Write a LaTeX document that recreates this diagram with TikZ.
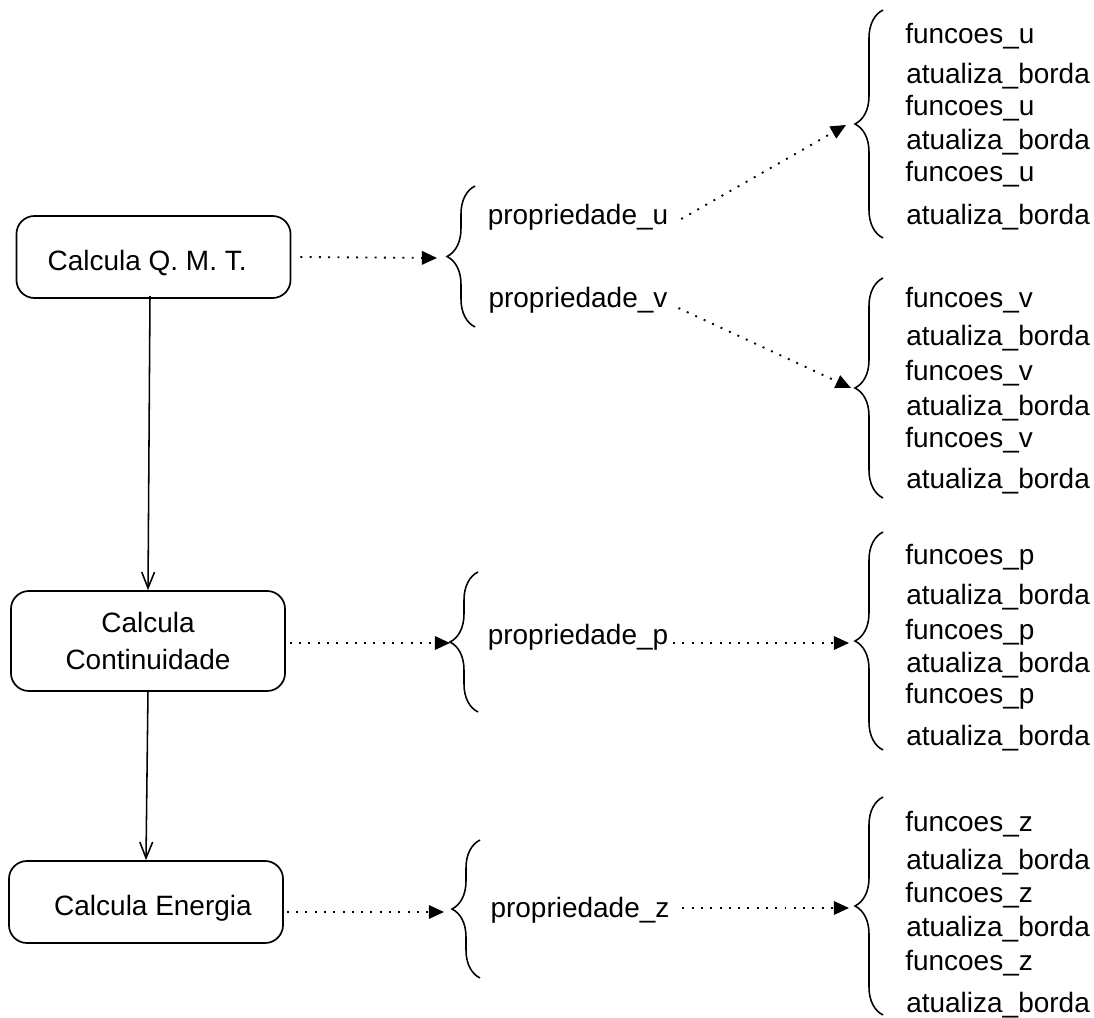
\documentclass[tikz,border=0pt]{standalone}
\usepackage{fontspec}
\setmainfont{Liberation Sans}
\usetikzlibrary{arrows.meta,decorations.pathreplacing}

\begin{document}
\begin{tikzpicture}[x=0.025cm,y=-0.025cm,
    font=\fontsize{19.9}{24}\selectfont,
    caixa/.style={draw,rounded corners=0.45cm,line width=1.2pt,
        minimum width=6.85cm,align=center},
    chave/.style={decorate,decoration={brace,amplitude=0.7cm},line width=1.1pt},
    pontos/.style={line width=1.3pt,dash pattern=on 1.4pt off 5.2pt,
        -{Triangle[length=0.38cm,width=0.34cm]}},
    seta/.style={line width=1.1pt,-{Straight Barb[length=0.4cm,width=0.32cm]}},
    item/.style={anchor=west,inner sep=0pt}]
            \useasboundingbox (0,0) rectangle (1094,1018);

            % caixas da esquerda
            \node[caixa,minimum height=2.05cm,text height=0.66cm,text depth=0pt] (qmt) at (153.5,257) {\hspace{-0.32cm}Calcula Q. M. T.};
            \node[caixa,minimum height=2.5cm,font=\fontsize{19.9}{27}\selectfont] (cont) at (148,641) {Calcula\\Continuidade};
            \node[caixa,minimum height=2.05cm,text height=0.66cm,text depth=0pt] (ener) at (146,902) {\hspace{0.35cm}Calcula Energia};
            \draw[seta] (150,296) -- (cont.north);
            \draw[seta] (148,690) -- (ener.north);

            % chaves do meio
            \draw[chave] (475,327) -- (475,186);
            \draw[chave] (478,712) -- (478,572);
            \draw[chave] (480,978) -- (480,840);
            \coordinate (c1) at (437,258);
            \coordinate (c2) at (450,643);
            \coordinate (c3) at (444,912);
            \draw[pontos] (qmt.east) ++(9,0) -- (c1);
            \draw[pontos] (cont.east) ++(4,2) -- (c2);
            \draw[pontos] (ener.east) ++(3,10) -- (c3);

            \node (pu) at (578,217) {propriedade\_u};
            \node (pv) at (578,300) {propriedade\_v};
            \node (pp) at (578,637) {propriedade\_p};
            \node (pz) at (580,910) {propriedade\_z};

            % chaves da direita
            \draw[chave] (883,238) -- (883,10);
            \draw[chave] (883,498) -- (883,278);
            \draw[chave] (883,750) -- (883,532);
            \draw[chave] (883,1015) -- (883,797);
            \coordinate (du) at (846,125);
            \coordinate (dv) at (851,388);
            \coordinate (dp) at (849,643);
            \coordinate (dz) at (849,908);
            \draw[pontos] (pu.east) ++(8,2) -- (du);
            \draw[pontos] (pv.east) ++(6,8) -- (dv);
            \draw[pontos] (pp.east) ++(0,6) -- (dp);
            \draw[pontos] (pz.east) ++(8,-2) -- (dz);

            \foreach \l/\y in {u/36,u/108,u/174,v/300,v/373,v/440,p/557,p/632,p/696,z/824,z/895,z/963}
                \node[item] (f\l\y) at (905,\y) {funcoes\_\l};
            \foreach \y in {76,142,217,338,408,481,597,665,738,862,929,1005}
                \node[item] (a\y) at (906,\y) {atualiza\_borda};
        \end{tikzpicture}
\end{document}
